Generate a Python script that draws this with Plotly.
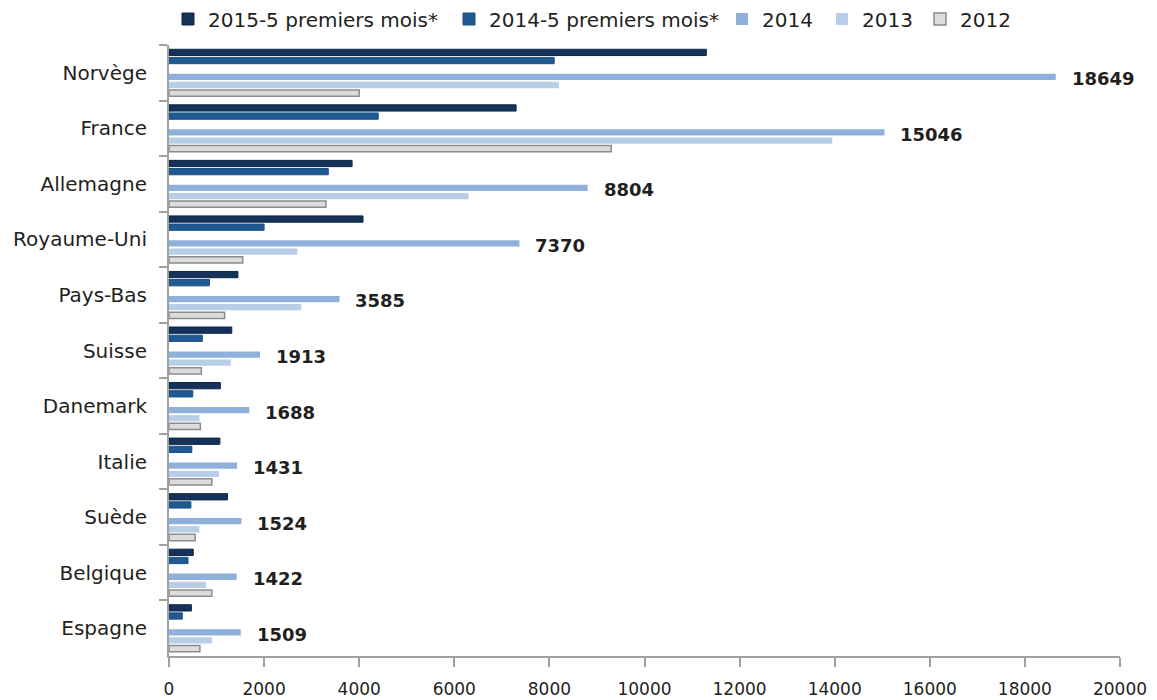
import plotly.graph_objects as go

categories = ["Norvège", "France", "Allemagne", "Royaume-Uni", "Pays-Bas", "Suisse",
              "Danemark", "Italie", "Suède", "Belgique", "Espagne"]
s2015_5 = [11300, 7300, 3850, 4080, 1450, 1320, 1080, 1070, 1230, 510, 470]
s2014_5 = [8100, 4400, 3350, 2000, 850, 700, 500, 480, 460, 400, 280]
s2014 = [18649, 15046, 8804, 7370, 3585, 1913, 1688, 1431, 1524, 1422, 1509]
s2013 = [8200, 13950, 6300, 2700, 2780, 1300, 640, 1050, 640, 780, 900]
s2012 = [4000, 9300, 3300, 1550, 1170, 680, 660, 900, 550, 900, 650]
x_ticks = [0, 2000, 4000, 6000, 8000, 10000, 12000, 14000, 16000, 18000, 20000]

FONT = "'DejaVu Sans', sans-serif"
TXT = "#231f20"
W, H = 1149, 692          # page has an 8px body margin
legend_left_px = [160, 441, 714, 814, 912]   # left edge of each legend box (figure px)

fig = go.Figure()
series = [
    ("2015-5 premiers mois*", s2015_5, "#14325a", "#0f2544", 1),
    ("2014-5 premiers mois*", s2014_5, "#1f5a92", "#1a4f80", 1),
    (None, [None] * len(categories), "#ffffff", "#ffffff", 0),
    ("2014", s2014, "#8eb0da", "#8eb0da", 0),
    ("2013", s2013, "#b8cde6", "#b8cde6", 0),
    ("2012", s2012, "#dcdcdc", "#8c8c8c", 1.5),
]
li = 0
legend_layout = {}
for name, vals, col, lcol, lw in series:
    kw = {}
    if name is not None:
        lname = "legend" if li == 0 else f"legend{li + 1}"
        kw["legend"] = lname
        legend_layout[lname] = dict(
            orientation="h", xref="container", x=legend_left_px[li] / W, xanchor="left",
            yref="container", y=1 - 11 / H, yanchor="middle",
            font=dict(family=FONT, size=20, color=TXT), itemwidth=30,
            bgcolor="rgba(0,0,0,0)", borderwidth=0)
        li += 1
    fig.add_trace(go.Bar(
        y=categories, x=vals, orientation="h", name=name or "",
        showlegend=name is not None,
        marker=dict(color=col, line=dict(color=lcol, width=lw)),
        hoverinfo="x+name" if name else "skip", **kw,
    ))

for cat, v in zip(categories, s2014):
    fig.add_annotation(x=v, y=cat, text=f"<b>{v}</b>", showarrow=False,
                       xanchor="left", yanchor="middle", xshift=14, yshift=-6,
                       font=dict(family=FONT, size=18, color=TXT))

fig.update_layout(
    width=W, height=H,
    margin=dict(l=161, r=37, t=37, b=44, autoexpand=False),
    paper_bgcolor="white", plot_bgcolor="white",
    barmode="group", bargap=0.12, bargroupgap=0.23,
    font=dict(family=FONT, size=20, color=TXT),
    xaxis=dict(range=[0, 20000], tickvals=x_ticks, ticktext=[str(t) for t in x_ticks],
               showgrid=False, zeroline=False, showline=True, linecolor="#a0a0a0",
               linewidth=2, ticks="outside", ticklen=9, tickcolor="#a0a0a0", tickwidth=1.5,
               ticklabelstandoff=8, tickfont=dict(family=FONT, size=17, color=TXT),
               automargin=False, fixedrange=True),
    yaxis=dict(autorange="reversed", showgrid=False, showline=True, linecolor="#a0a0a0",
               linewidth=2, ticks="outside", ticklen=8, tickcolor="#a0a0a0", tickwidth=1.5,
               tickson="boundaries", ticklabelstandoff=16, automargin=False,
               tickfont=dict(family=FONT, size=20, color=TXT), fixedrange=True),
    **legend_layout,
)

fig.write_html("out.html")
